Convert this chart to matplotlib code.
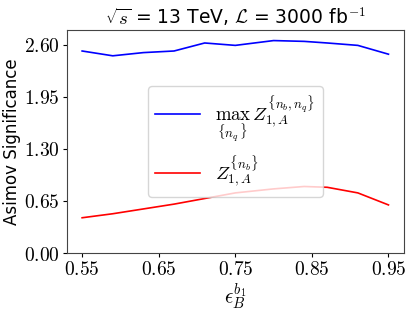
import matplotlib
matplotlib.use('Agg')
import matplotlib.pyplot as plt
import numpy as np

plt.rcParams['mathtext.fontset'] = 'cm'

# efficiency points and significances
eff = [0.55, 0.59, 0.63, 0.67, 0.71, 0.75, 0.80, 0.84, 0.87, 0.91, 0.95]
z_max = [2.52, 2.46, 2.50, 2.52, 2.62, 2.59, 2.65, 2.64, 2.62, 2.59, 2.48]
z_nb = [0.44, 0.49, 0.55, 0.61, 0.68, 0.75, 0.80, 0.83, 0.82, 0.75, 0.60]

yticks = [0.00, 0.65, 1.30, 1.95, 2.60]
xticks = [0.55, 0.65, 0.75, 0.85, 0.95]

fig = plt.figure(figsize=(4.15, 3.12), dpi=100)
ax = fig.add_axes([0.161, 0.189, 0.812, 0.715])

ax.plot(eff, z_max, color='b', lw=1.2, label=r'$\max_{\{n_q\}}\, Z_{1,A}^{\{n_b,n_q\}}$')
ax.plot(eff, z_nb, color='r', lw=1.2, label=r'$Z_{1,A}^{\{n_b\}}$')

ax.set_ylim(0, 1.05 * max(z_max))
ax.set_yticks(yticks)
ax.set_yticklabels(['$%.2f$' % v for v in yticks], fontsize=14)
ax.set_xticks(xticks)
ax.set_xticklabels(['$%.2f$' % v for v in xticks], fontsize=14)
ax.tick_params(length=3, pad=2)

ax.set_xlabel(r'$\epsilon_B^{b_1}$', fontsize=15, labelpad=2)
ax.set_ylabel('Asimov Significance', fontsize=12, labelpad=2)
ax.set_title(r'$\sqrt{s}$ = 13 TeV, $\mathcal{L}$ = 3000 fb$^{-1}$', fontsize=13.5, pad=4)

for s in ax.spines.values():
    s.set_color('#444444')

ax.legend(loc='center', fontsize=13.5, handlelength=2.4)

fig.savefig('out.png', dpi=100)
